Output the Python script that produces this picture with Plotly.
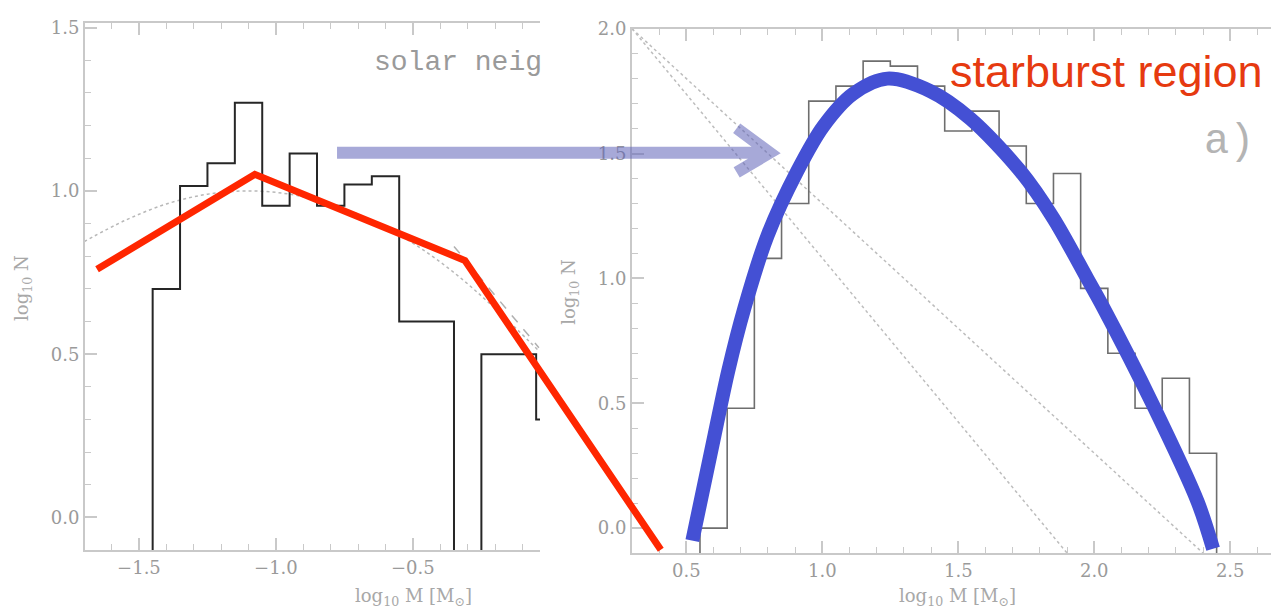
import plotly.graph_objects as go

W, H = 1271, 611

# ---------------- data ----------------
# left panel (solar neighbourhood) histogram: bin edges and log10 N (None = empty bin)
left_edges = [-1.45, -1.35, -1.25, -1.15, -1.05, -0.95, -0.85, -0.75, -0.65,
              -0.55, -0.45, -0.35, -0.25, -0.15, -0.05, 0.05]
left_log_n = [0.70, 1.015, 1.085, 1.27, 0.955, 1.115, 0.955, 1.02, 1.045,
              0.60, 0.60, None, 0.50, 0.50, 0.30]

# dotted log-normal curve in left panel
left_curve_x = [-1.70, -1.55, -1.40, -1.25, -1.10, -0.95, -0.80, -0.65, -0.50, -0.35, -0.20, -0.04]
left_curve_y = [0.845, 0.91, 0.96, 0.99, 1.00, 0.99, 0.96, 0.91, 0.84, 0.75, 0.64, 0.51]
# dashed segment in left panel
left_dash_x = [-0.35, -0.04]
left_dash_y = [0.83, 0.52]

# right panel (starburst) histogram
right_edges = [0.55, 0.65, 0.75, 0.85, 0.95, 1.05, 1.15, 1.25, 1.35, 1.45,
               1.55, 1.65, 1.75, 1.85, 1.95, 2.05, 2.15, 2.25, 2.35, 2.45]
right_log_n = [0.0, 0.48, 1.08, 1.30, 1.71, 1.77, 1.87, 1.85, 1.77, 1.59,
               1.67, 1.53, 1.30, 1.42, 0.96, 0.70, 0.48, 0.60, 0.30]

# dotted power-law lines in right panel
right_dot1_x = [0.30, 1.90]
right_dot1_y = [2.00, -0.10]
right_dot2_x = [0.30, 2.40]
right_dot2_y = [2.00, -0.10]

# blue hand-drawn fit curve (right panel units)
blue_x = [0.522, 0.603, 0.654, 0.713, 0.798, 0.908, 1.004, 1.114, 1.239,
          1.397, 1.544, 1.728, 1.850, 1.974, 2.030, 2.213, 2.380, 2.437]
blue_y = [-0.05, 0.37, 0.63, 0.88, 1.17, 1.43, 1.61, 1.74, 1.80,
          1.75, 1.64, 1.43, 1.24, 1.00, 0.89, 0.50, 0.106, -0.083]

# red broken power law (left panel units, extends beyond the panel)
red_x = [-1.653, -1.077, -0.310, 0.405]
red_y = [0.760, 1.051, 0.787, -0.099]

# arrow (left panel units): shaft start, tip, upper barb, tip, lower barb
arrow_x = [-0.777, 0.803, 0.682, 0.803, 0.682]
arrow_y = [1.117, 1.117, 1.192, 1.117, 1.057]

# axis ranges
left_xrange = [-1.697, -0.036]
left_yrange = [-0.10, 1.515]
right_xrange = [0.30, 2.65]
right_yrange = [-0.10, 2.0]

# ---------------- layout geometry (pixels) ----------------
L_px = (85, 540, 12, 549)     # x0, x1, ytop, ybottom
R_px = (632, 1271, 18, 552)


def dom_x(p):
    return [p[0] / W, p[1] / W]


def dom_y(p):
    return [1 - p[3] / H, 1 - p[2] / H]


def step_xy(edges, vals, floor=-1.0):
    xs, ys = [edges[0]], [floor]
    for e, v in zip(edges[:-1], vals):
        xs.append(e)
        ys.append(floor if v is None else v)
    last = vals[-1]
    xs += [edges[-1], edges[-1]]
    ys += [floor if last is None else last, floor]
    return xs, ys


fig = go.Figure()

# left panel
lx, ly = step_xy(left_edges, left_log_n)
fig.add_trace(go.Scatter(x=left_curve_x, y=left_curve_y, mode="lines", line=dict(color="#b8b8b8", width=1.5, dash="dot", shape="spline"),
                         xaxis="x", yaxis="y", hoverinfo="skip"))
fig.add_trace(go.Scatter(x=left_dash_x, y=left_dash_y, mode="lines", line=dict(color="#b0b0b0", width=1.5, dash="dash"),
                         xaxis="x", yaxis="y", hoverinfo="skip"))
fig.add_trace(go.Scatter(x=lx, y=ly, mode="lines", line=dict(color="#262626", width=2, shape="hv"),
                         xaxis="x", yaxis="y", hoverinfo="skip"))

# right panel
rx, ry = step_xy(right_edges, right_log_n)
fig.add_trace(go.Scatter(x=right_dot1_x, y=right_dot1_y, mode="lines", line=dict(color="#bdbdbd", width=1.5, dash="dot"),
                         xaxis="x2", yaxis="y2", hoverinfo="skip"))
fig.add_trace(go.Scatter(x=right_dot2_x, y=right_dot2_y, mode="lines", line=dict(color="#bdbdbd", width=1.5, dash="dot"),
                         xaxis="x2", yaxis="y2", hoverinfo="skip"))
fig.add_trace(go.Scatter(x=rx, y=ry, mode="lines", line=dict(color="#6e6e6e", width=1.6, shape="hv"),
                         xaxis="x2", yaxis="y2", hoverinfo="skip"))
fig.add_trace(go.Scatter(x=blue_x, y=blue_y, mode="lines", line=dict(color="#4450D4", width=14, shape="spline", smoothing=0.9),
                         xaxis="x2", yaxis="y2", hoverinfo="skip"))

# overlay axes spanning whole figure, same scale as left panel
sx = (L_px[1] - L_px[0]) / (left_xrange[1] - left_xrange[0])
sy = (L_px[3] - L_px[2]) / (left_yrange[1] - left_yrange[0])
ov_xrange = [left_xrange[0] - L_px[0] / sx, left_xrange[0] + (W - L_px[0]) / sx]
ov_yrange = [left_yrange[0] - (H - L_px[3]) / sy, left_yrange[1] + L_px[2] / sy]

fig.add_trace(go.Scatter(x=arrow_x, y=arrow_y, mode="lines",
                         line=dict(color="rgba(95,99,184,0.55)", width=12),
                         xaxis="x3", yaxis="y3", hoverinfo="skip"))
fig.add_trace(go.Scatter(x=red_x, y=red_y, mode="lines", line=dict(color="#FF2600", width=7),
                         xaxis="x3", yaxis="y3", hoverinfo="skip"))

axis_common = dict(
    showline=True, linecolor="#c9c9c9", linewidth=2,
    ticks="inside", ticklen=12, tickwidth=1.5, tickcolor="#c9c9c9",
    showgrid=False, zeroline=False,
    tickfont=dict(family="DejaVu Serif", size=18, color="#9a9a9a"),
    minor=dict(ticks="inside", ticklen=6, tickwidth=1.2, tickcolor="#c9c9c9", dtick=0.1, showgrid=False),
    fixedrange=True,
)

fig.update_layout(
    width=W, height=H,
    margin=dict(l=0, r=0, t=0, b=0),
    paper_bgcolor="white", plot_bgcolor="rgba(0,0,0,0)",
    showlegend=False,
    xaxis=dict(domain=dom_x(L_px), range=left_xrange, anchor="y", tick0=-1.5, dtick=0.5, tickformat=".1f",
               mirror="ticks", **axis_common),
    yaxis=dict(domain=dom_y(L_px), range=left_yrange, anchor="x", tick0=0, dtick=0.5, tickformat=".1f",
               **axis_common),
    xaxis2=dict(domain=dom_x(R_px), range=right_xrange, anchor="y2", tick0=0.5, dtick=0.5, tickformat=".1f",
                mirror="ticks", **axis_common),
    yaxis2=dict(domain=dom_y(R_px), range=right_yrange, anchor="x2", tick0=0, dtick=0.5, tickformat=".1f",
                **axis_common),
    xaxis3=dict(domain=[0, 1], range=ov_xrange, anchor="y3", visible=False, fixedrange=True),
    yaxis3=dict(domain=[0, 1], range=ov_yrange, anchor="x3", visible=False, fixedrange=True),
)

title_font = dict(family="DejaVu Serif", size=18, color="#a8a8a8")
ann = [
    dict(text="log<sub>10</sub> N", x=23 / W, y=1 - 282 / H, textangle=-90),
    dict(text="log<sub>10</sub> N", x=570 / W, y=1 - 286 / H, textangle=-90),
    dict(text="log<sub>10</sub> M [M<sub>⊙</sub>]", x=413 / W, y=1 - 597 / H),
    dict(text="log<sub>10</sub> M [M<sub>⊙</sub>]", x=957 / W, y=1 - 597 / H),
]
for a in ann:
    fig.add_annotation(xref="paper", yref="paper", showarrow=False, font=title_font,
                       xanchor="center", yanchor="middle", **a)

fig.add_annotation(text="solar neig", xref="paper", yref="paper", x=372 / W, y=1 - 52 / H,
                   xanchor="left", yanchor="middle", showarrow=False,
                   font=dict(family="Liberation Mono", size=28, color="#9a9a9a"))
fig.add_annotation(text="a)", xref="paper", yref="paper", x=1202 / W, y=1 - 133 / H,
                   xanchor="left", yanchor="middle", showarrow=False,
                   font=dict(family="Liberation Mono", size=42, color="#b4b4b4"))
fig.add_annotation(text="starburst region", xref="paper", yref="paper", x=948 / W, y=1 - 62 / H,
                   xanchor="left", yanchor="middle", showarrow=False,
                   font=dict(family="Liberation Sans", size=45, color="#E63A10"))

fig.write_html("out.html", config={"displayModeBar": False},
               post_script="document.body.style.margin='0';document.body.style.overflow='hidden';")
